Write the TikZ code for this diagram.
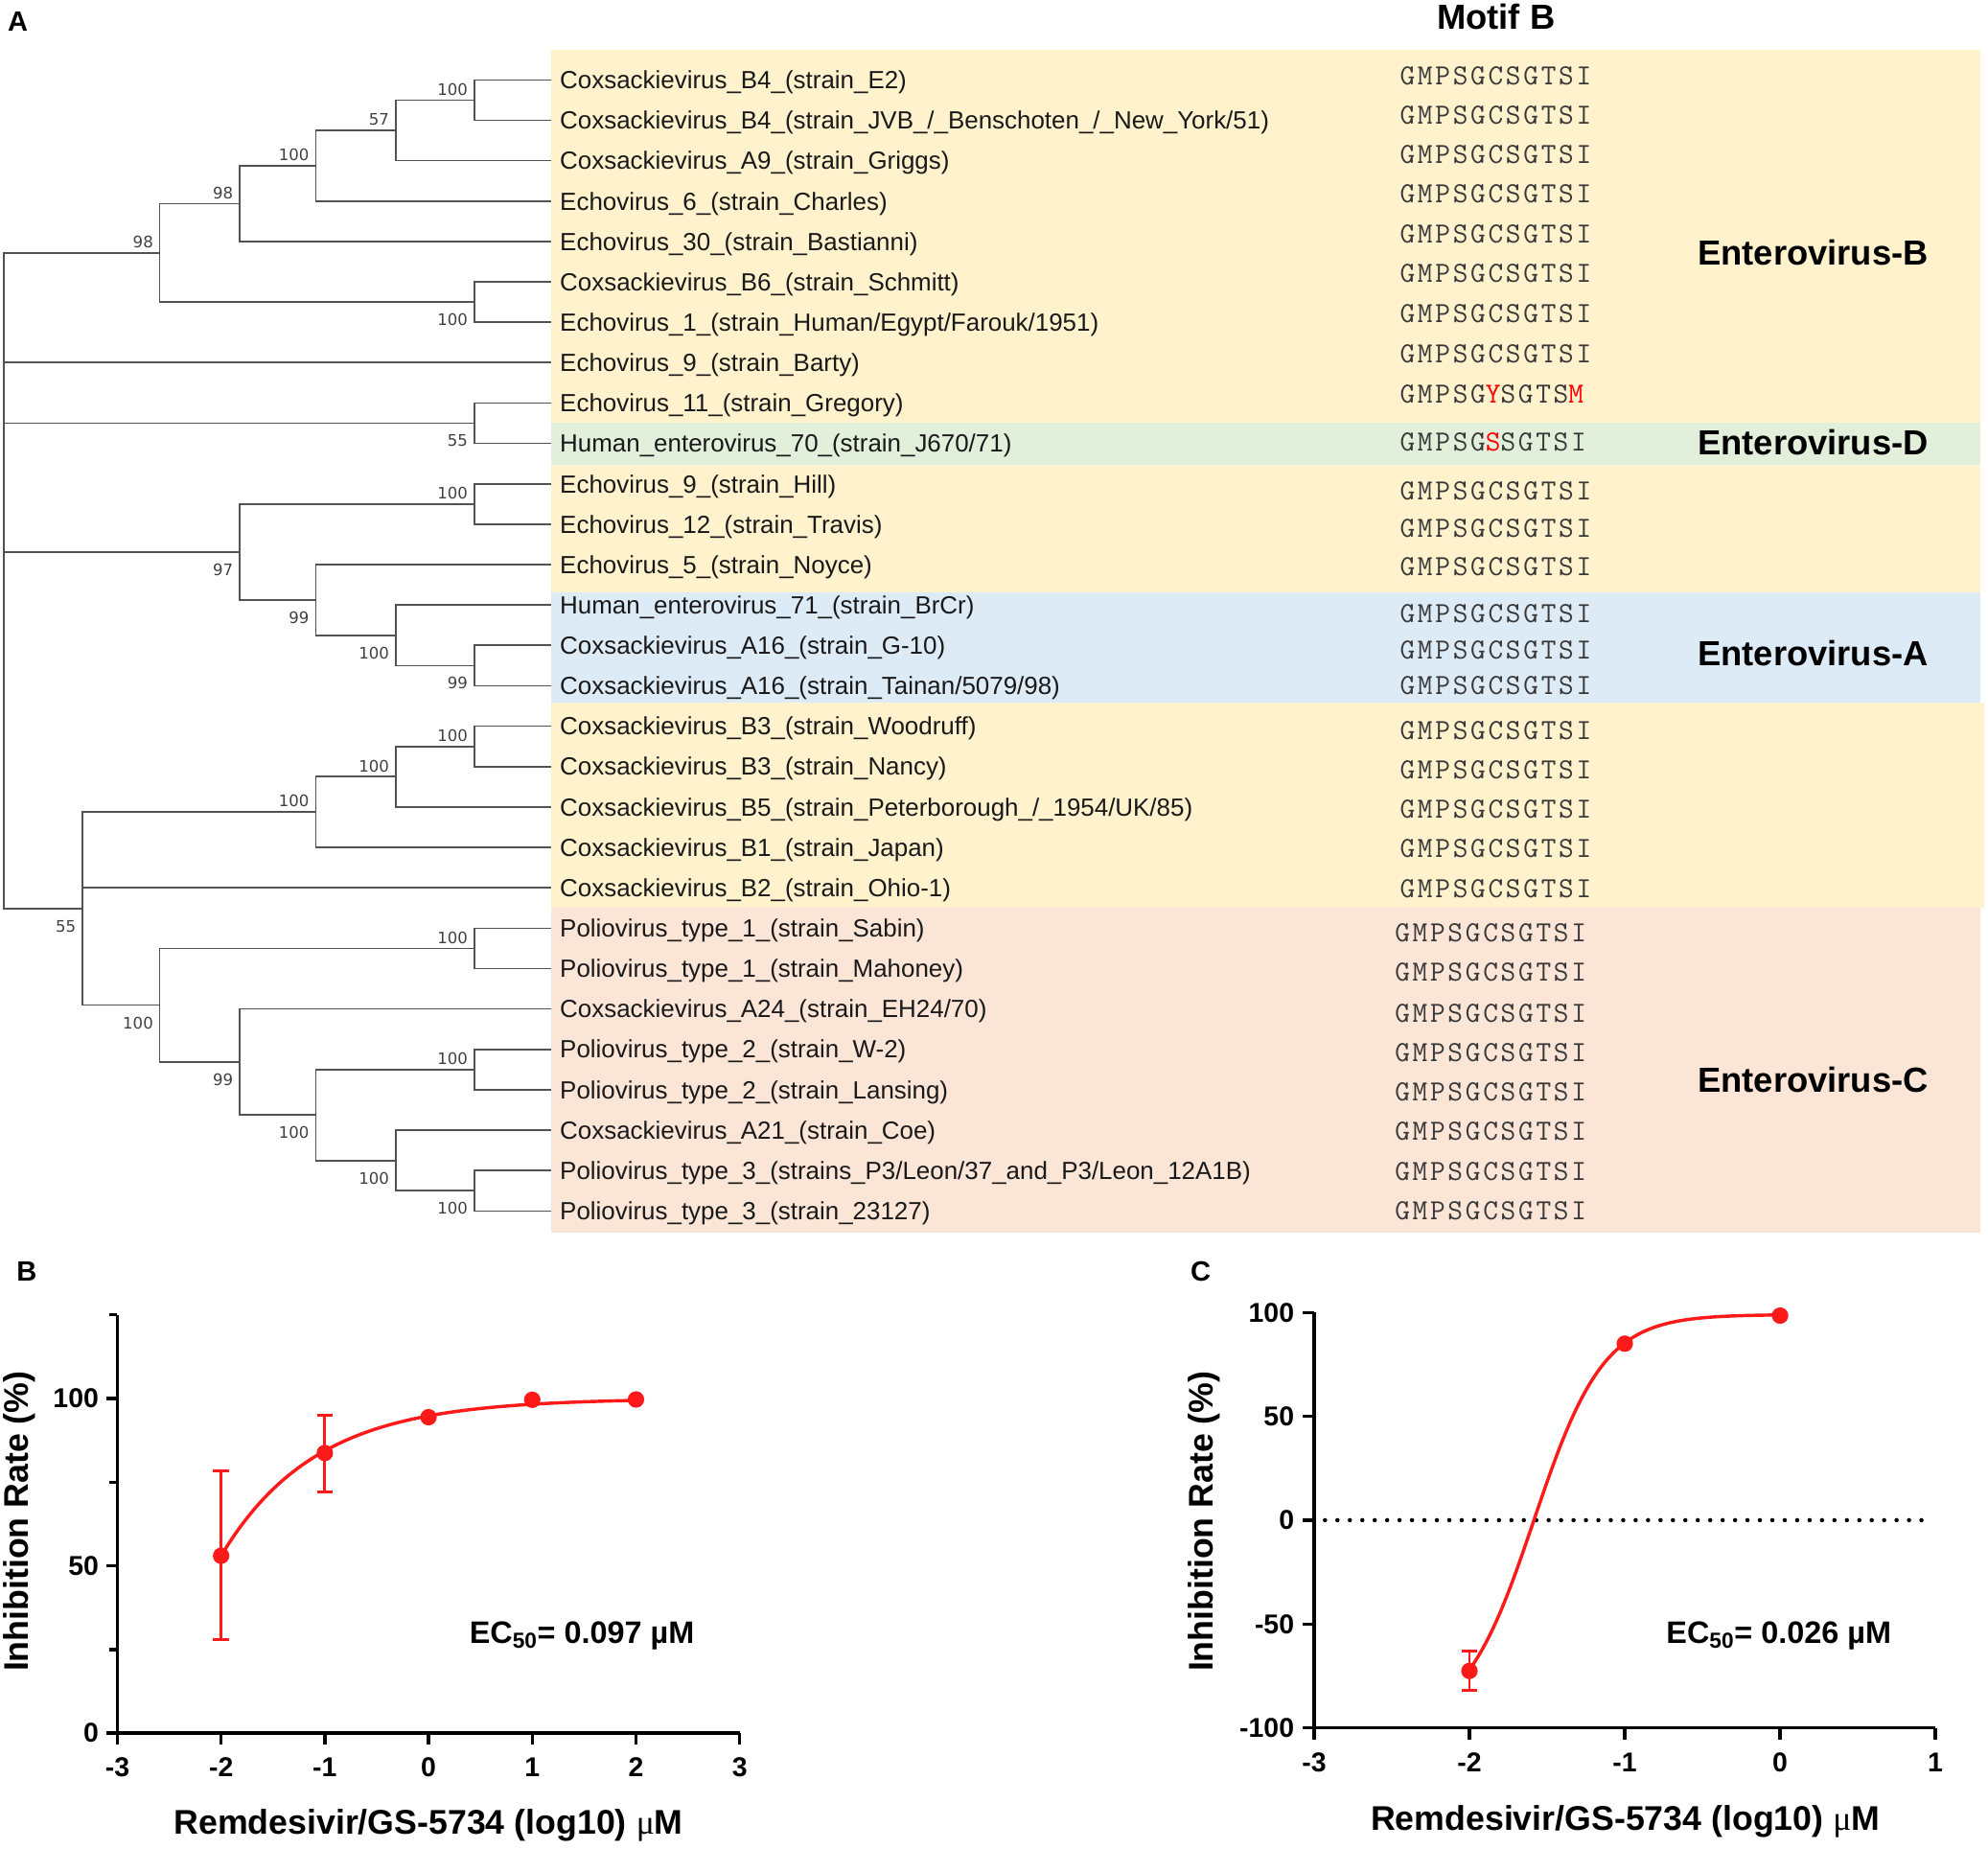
\documentclass[tikz,border=0pt]{standalone}
\usepackage{fontspec}
\setmainfont{Liberation Sans}
\newfontfamily\bsfont{DejaVu Sans}
\newfontfamily\motiffont[LetterSpace=9]{Latin Modern Mono}
\newfontfamily\mufont{Liberation Serif}
\definecolor{bandB}{HTML}{FFF2CC}
\definecolor{bandD}{HTML}{E2EFDA}
\definecolor{bandA}{HTML}{DDEBF7}
\definecolor{bandC}{HTML}{FBE5D6}
\definecolor{fitred}{HTML}{FF1A1A}
\tikzset{
  leaf/.style={anchor=west, inner xsep=6.5pt, inner ysep=0pt, text height=14pt, text depth=0pt,
    font=\fontsize{19.6}{20}\selectfont, text=black!90},
  motif/.style={anchor=west, inner sep=0pt, font=\motiffont\fontsize{23}{23}\selectfont, text=black!78},
  group/.style={font=\bfseries\fontsize{27.5}{28}\selectfont},
  panel/.style={font=\bfseries\fontsize{22}{22}\selectfont},
  bsup/.style={anchor=base east, inner sep=0pt, xshift=-5pt, yshift=4pt,
    font=\bsfont\fontsize{12.5}{13}\selectfont, text=black!75},
  bsdn/.style={anchor=base east, inner sep=0pt, xshift=-5pt, yshift=-18.5pt,
    font=\bsfont\fontsize{12.5}{13}\selectfont, text=black!75},
  branch/.style={line width=1.25pt, draw=black!68},
  axis/.style={line width=2.6pt, draw=black},
  xtick/.style={font=\bfseries\fontsize{21.5}{22}\selectfont, yshift=-18pt},
  ytick/.style={font=\bfseries\fontsize{21.5}{22}\selectfont, anchor=east, inner sep=0pt},
  axlabel/.style={font=\bfseries\fontsize{27}{27}\selectfont},
  ectext/.style={font=\bfseries\fontsize{24.5}{25}\selectfont},
  pt/.style={circle, fill=fitred, inner sep=0pt, minimum size=13pt},
  errbar/.style={draw=fitred, line width=2.2pt},
  fit/.style={draw=fitred, line width=2.6pt}
}
\begin{document}
\begin{tikzpicture}[x=1pt, y=-1pt]
  \useasboundingbox (0,0) rectangle (1568,1458);
  % coloured bands behind the leaves
  \fill[bandB] (435,39) rectangle (1562,333.5);
  \fill[bandD] (435,333.5) rectangle (1562,366.5);
  \fill[bandB] (435,366.5) rectangle (1562,467);
  \fill[bandA] (435,467) rectangle (1562,554);
  \fill[bandB] (435,554) rectangle (1565,716);
  \fill[bandC] (435,716) rectangle (1562,972);

  \node[panel] (pA) at (14,17) {A};
  \node[group] (mt) at (1180,13) {Motif B};

  % leaves
  \node[leaf] (l1) at (435,63) {Coxsackievirus\_B4\_(strain\_E2)};
  \node[leaf] (l2) at (435,94.9) {Coxsackievirus\_B4\_(strain\_JVB\_/\_Benschoten\_/\_New\_York/51)};
  \node[leaf] (l3) at (435,126.7) {Coxsackievirus\_A9\_(strain\_Griggs)};
  \node[leaf] (l4) at (435,158.6) {Echovirus\_6\_(strain\_Charles)};
  \node[leaf] (l5) at (435,190.4) {Echovirus\_30\_(strain\_Bastianni)};
  \node[leaf] (l6) at (435,222.3) {Coxsackievirus\_B6\_(strain\_Schmitt)};
  \node[leaf] (l7) at (435,254.2) {Echovirus\_1\_(strain\_Human/Egypt/Farouk/1951)};
  \node[leaf] (l8) at (435,286) {Echovirus\_9\_(strain\_Barty)};
  \node[leaf] (l9) at (435,317.9) {Echovirus\_11\_(strain\_Gregory)};
  \node[leaf] (l10) at (435,349.7) {Human\_enterovirus\_70\_(strain\_J670/71)};
  \node[leaf] (l11) at (435,381.6) {Echovirus\_9\_(strain\_Hill)};
  \node[leaf] (l12) at (435,413.5) {Echovirus\_12\_(strain\_Travis)};
  \node[leaf] (l13) at (435,445.3) {Echovirus\_5\_(strain\_Noyce)};
  \node[leaf] (l14) at (435,477.2) {Human\_enterovirus\_71\_(strain\_BrCr)};
  \node[leaf] (l15) at (435,509) {Coxsackievirus\_A16\_(strain\_G-10)};
  \node[leaf] (l16) at (435,540.9) {Coxsackievirus\_A16\_(strain\_Tainan/5079/98)};
  \node[leaf] (l17) at (435,572.8) {Coxsackievirus\_B3\_(strain\_Woodruff)};
  \node[leaf] (l18) at (435,604.6) {Coxsackievirus\_B3\_(strain\_Nancy)};
  \node[leaf] (l19) at (435,636.5) {Coxsackievirus\_B5\_(strain\_Peterborough\_/\_1954/UK/85)};
  \node[leaf] (l20) at (435,668.3) {Coxsackievirus\_B1\_(strain\_Japan)};
  \node[leaf] (l21) at (435,700.2) {Coxsackievirus\_B2\_(strain\_Ohio-1)};
  \node[leaf] (l22) at (435,732.1) {Poliovirus\_type\_1\_(strain\_Sabin)};
  \node[leaf] (l23) at (435,763.9) {Poliovirus\_type\_1\_(strain\_Mahoney)};
  \node[leaf] (l24) at (435,795.8) {Coxsackievirus\_A24\_(strain\_EH24/70)};
  \node[leaf] (l25) at (435,827.6) {Poliovirus\_type\_2\_(strain\_W-2)};
  \node[leaf] (l26) at (435,859.5) {Poliovirus\_type\_2\_(strain\_Lansing)};
  \node[leaf] (l27) at (435,891.4) {Coxsackievirus\_A21\_(strain\_Coe)};
  \node[leaf] (l28) at (435,923.2) {Poliovirus\_type\_3\_(strains\_P3/Leon/37\_and\_P3/Leon\_12A1B)};
  \node[leaf] (l29) at (435,955.1) {Poliovirus\_type\_3\_(strain\_23127)};

  % motif B column
  \node[motif] (m1) at (1104,60) {GMPSGCSGTSI};
  \node[motif] (m2) at (1104,91) {GMPSGCSGTSI};
  \node[motif] (m3) at (1104,122) {GMPSGCSGTSI};
  \node[motif] (m4) at (1104,153) {GMPSGCSGTSI};
  \node[motif] (m5) at (1104,185) {GMPSGCSGTSI};
  \node[motif] (m6) at (1104,216) {GMPSGCSGTSI};
  \node[motif] (m7) at (1104,247) {GMPSGCSGTSI};
  \node[motif] (m8) at (1104,279) {GMPSGCSGTSI};
  \node[motif] (m9) at (1104,311) {GMPSG\textcolor{red}{Y}SGTS\textcolor{red}{M}};
  \node[motif] (m10) at (1104,349) {GMPSG\textcolor{red}{S}SGTSI};
  \node[motif] (m11) at (1104,387) {GMPSGCSGTSI};
  \node[motif] (m12) at (1104,417) {GMPSGCSGTSI};
  \node[motif] (m13) at (1104,447) {GMPSGCSGTSI};
  \node[motif] (m14) at (1104,484) {GMPSGCSGTSI};
  \node[motif] (m15) at (1104,513) {GMPSGCSGTSI};
  \node[motif] (m16) at (1104,541) {GMPSGCSGTSI};
  \node[motif] (m17) at (1104,576) {GMPSGCSGTSI};
  \node[motif] (m18) at (1104,607) {GMPSGCSGTSI};
  \node[motif] (m19) at (1104,638) {GMPSGCSGTSI};
  \node[motif] (m20) at (1104,669) {GMPSGCSGTSI};
  \node[motif] (m21) at (1104,701) {GMPSGCSGTSI};
  \node[motif] (m22) at (1100,736) {GMPSGCSGTSI};
  \node[motif] (m23) at (1100,767) {GMPSGCSGTSI};
  \node[motif] (m24) at (1100,799) {GMPSGCSGTSI};
  \node[motif] (m25) at (1100,830) {GMPSGCSGTSI};
  \node[motif] (m26) at (1100,861) {GMPSGCSGTSI};
  \node[motif] (m27) at (1100,892) {GMPSGCSGTSI};
  \node[motif] (m28) at (1100,924) {GMPSGCSGTSI};
  \node[motif] (m29) at (1100,955) {GMPSGCSGTSI};

  \node[group] (gB) at (1430,199) {Enterovirus-B};
  \node[group] (gD) at (1430,349) {Enterovirus-D};
  \node[group] (gA) at (1430,515) {Enterovirus-A};
  \node[group] (gC) at (1430,852) {Enterovirus-C};

  % internal nodes of the tree
  \coordinate (root) at (3,458);
  \coordinate (a1) at (374,78.9);
  \coordinate (a2) at (312,102.8);
  \coordinate (a3) at (249,130.7);
  \coordinate (a4) at (189,160.6);
  \coordinate (a5) at (374,238.2);
  \coordinate (a6) at (126,199.4);
  \coordinate (a7) at (374,333.8);
  \coordinate (a8) at (374,397.5);
  \coordinate (a9) at (374,525);
  \coordinate (a10) at (312,501.1);
  \coordinate (a11) at (249,473.2);
  \coordinate (a12) at (189,435.4);
  \coordinate (b1) at (374,588.7);
  \coordinate (b2) at (312,612.6);
  \coordinate (b3) at (249,640.5);
  \coordinate (c1) at (374,748);
  \coordinate (c2) at (374,843.6);
  \coordinate (c3) at (374,939.2);
  \coordinate (c4) at (312,915.3);
  \coordinate (c5) at (249,879.4);
  \coordinate (c6) at (189,837.6);
  \coordinate (c7) at (126,792.8);
  \coordinate (c8) at (65,716.6);

  \begin{scope}[branch]
    \draw (root) |- (a6);
    \draw (root) |- (l8.west);
    \draw (root) |- (a7);
    \draw (root) |- (a12);
    \draw (root) |- (c8);
    \draw (a6) |- (a4);
    \draw (a6) |- (a5);
    \draw (a4) |- (a3);
    \draw (a4) |- (l5.west);
    \draw (a3) |- (a2);
    \draw (a3) |- (l4.west);
    \draw (a2) |- (a1);
    \draw (a2) |- (l3.west);
    \draw (a1) |- (l1.west);
    \draw (a1) |- (l2.west);
    \draw (a5) |- (l6.west);
    \draw (a5) |- (l7.west);
    \draw (a7) |- (l9.west);
    \draw (a7) |- (l10.west);
    \draw (a12) |- (a8);
    \draw (a12) |- (a11);
    \draw (a8) |- (l11.west);
    \draw (a8) |- (l12.west);
    \draw (a11) |- (l13.west);
    \draw (a11) |- (a10);
    \draw (a10) |- (l14.west);
    \draw (a10) |- (a9);
    \draw (a9) |- (l15.west);
    \draw (a9) |- (l16.west);
    \draw (c8) |- (b3);
    \draw (c8) |- (l21.west);
    \draw (c8) |- (c7);
    \draw (b3) |- (b2);
    \draw (b3) |- (l20.west);
    \draw (b2) |- (b1);
    \draw (b2) |- (l19.west);
    \draw (b1) |- (l17.west);
    \draw (b1) |- (l18.west);
    \draw (c7) |- (c1);
    \draw (c7) |- (c6);
    \draw (c1) |- (l22.west);
    \draw (c1) |- (l23.west);
    \draw (c6) |- (l24.west);
    \draw (c6) |- (c5);
    \draw (c5) |- (c2);
    \draw (c5) |- (c4);
    \draw (c2) |- (l25.west);
    \draw (c2) |- (l26.west);
    \draw (c4) |- (l27.west);
    \draw (c4) |- (c3);
    \draw (c3) |- (l28.west);
    \draw (c3) |- (l29.west);
  \end{scope}

  % bootstrap values
  \node[bsup] (s1) at (a1) {100};
  \node[bsup] (s2) at (a2) {57};
  \node[bsup] (s3) at (a3) {100};
  \node[bsup] (s4) at (a4) {98};
  \node[bsup] (s6) at (a6) {98};
  \node[bsdn] (s5) at (a5) {100};
  \node[bsdn] (s7) at (a7) {55};
  \node[bsup] (s8) at (a8) {100};
  \node[bsdn] (s12) at (a12) {97};
  \node[bsdn] (s11) at (a11) {99};
  \node[bsdn] (s10) at (a10) {100};
  \node[bsdn] (s9) at (a9) {99};
  \node[bsup] (t1) at (b1) {100};
  \node[bsup] (t2) at (b2) {100};
  \node[bsup] (t3) at (b3) {100};
  \node[bsup] (u1) at (c1) {100};
  \node[bsup] (u2) at (c2) {100};
  \node[bsdn] (u3) at (c3) {100};
  \node[bsdn] (u4) at (c4) {100};
  \node[bsdn] (u5) at (c5) {100};
  \node[bsdn] (u6) at (c6) {99};
  \node[bsdn] (u7) at (c7) {100};
  \node[bsdn] (u8) at (c8) {55};

  % panel B
  \node[panel] (pB) at (21,1003) {B};
  \node[axlabel, rotate=90] (byl) at (15,1200) {Inhibition Rate (\%)};
  \node[axlabel] (bxl) at (338,1440) {Remdesivir/GS-5734 (log10) {\mufont\mdseries μ}M};
  \node[ectext] (bec) at (459,1290) {EC\textsubscript{50}= 0.097 µM};
  \begin{scope}[shift={(338pt,-1367pt)}, x=81.8pt, y=2.64pt]
    \draw[axis] (-3,125) -- (-3,0) -- (3,0);
    \foreach \v in {-3,...,3}
      \draw[axis] (\v,0) -- ++(0pt,-9pt) node[xtick] (bx\v) {\v};
    \foreach \v in {0,50,100}
      \draw[axis] (-3,\v) -- ++(-9pt,0pt) node[ytick, xshift=-4.5pt] (by\v) {\v};
    \foreach \v in {25,75,125}
      \draw[axis] (-3,\v) -- ++(-6.5pt,0pt);
    \draw[fit] plot[domain=-2:2, samples=60, smooth] (\x, {100-47*exp(-1.1*(\x+2))});
    \coordinate (e1lo) at (-2,28); \coordinate (e1hi) at (-2,78.4);
    \coordinate (e2lo) at (-1,72); \coordinate (e2hi) at (-1,95);
    \draw[errbar] (e1lo) -- (e1hi);
    \draw[errbar] (e1lo) ++(-6.3pt,0pt) -- ++(12.6pt,0pt);
    \draw[errbar] (e1hi) ++(-6.3pt,0pt) -- ++(12.6pt,0pt);
    \draw[errbar] (e2lo) -- (e2hi);
    \draw[errbar] (e2lo) ++(-6.3pt,0pt) -- ++(12.6pt,0pt);
    \draw[errbar] (e2hi) ++(-6.3pt,0pt) -- ++(12.6pt,0pt);
    \node[pt] (bp1) at (-2,53) {};
    \node[pt] (bp2) at (-1,83.7) {};
    \node[pt] (bp3) at (0,94.4) {};
    \node[pt] (bp4) at (1,99.6) {};
    \node[pt] (bp5) at (2,99.7) {};
  \end{scope}

  % panel C
  \node[panel] (pC) at (947,1003) {C};
  \node[axlabel, rotate=90] (cyl) at (950,1200) {Inhibition Rate (\%)};
  \node[axlabel] (cxl) at (1282,1437) {Remdesivir/GS-5734 (log10) {\mufont\mdseries μ}M};
  \node[ectext] (cec) at (1403,1290) {EC\textsubscript{50}= 0.026 µM};
  \begin{scope}[shift={(1404pt,-1199pt)}, x=122.5pt, y=1.638pt]
    \draw[axis] (-3,100) -- (-3,-100) -- (1,-100);
    \foreach \v in {-3,...,1}
      \draw[axis] (\v,-100) -- ++(0pt,-9pt) node[xtick] (cx\v) {\v};
    \foreach \v in {-100,-50,0,50,100}
      \draw[axis] (-3,\v) -- ++(-9pt,0pt) node[ytick, xshift=-5.5pt] (cy\v) {\v};
    \coordinate (z0) at (-2.93,0); \coordinate (z1) at (0.94,0);
    \draw[line width=3.4pt, line cap=round, dash pattern=on 0pt off 9.8pt] (z0) -- (z1);
    \draw[fit] plot[domain=-2:0, samples=80, smooth] (\x, {-99+198/(1+exp(2.302585*1.93*(-1.585-\x)))});
    \coordinate (f1lo) at (-2,-82); \coordinate (f1hi) at (-2,-63);
    \draw[errbar] (f1lo) -- (f1hi);
    \draw[errbar] (f1lo) ++(-6.3pt,0pt) -- ++(12.6pt,0pt);
    \draw[errbar] (f1hi) ++(-6.3pt,0pt) -- ++(12.6pt,0pt);
    \node[pt] (cp1) at (-2,-72.6) {};
    \node[pt] (cp2) at (-1,85) {};
    \node[pt] (cp3) at (0,98.5) {};
  \end{scope}
\end{tikzpicture}
\end{document}
